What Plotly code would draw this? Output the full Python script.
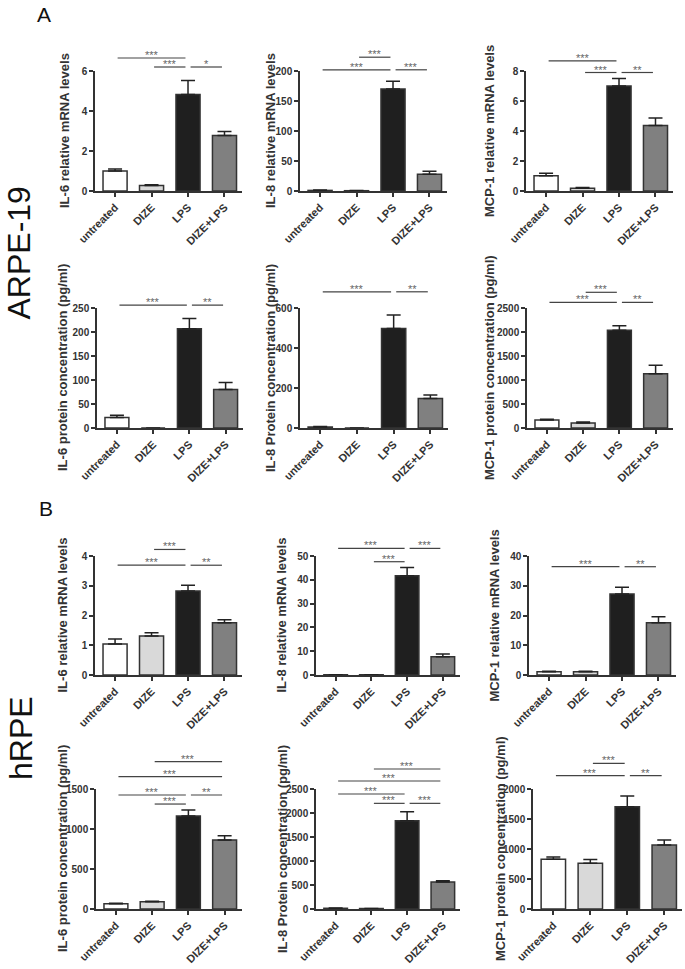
import plotly.graph_objects as go

W, H = 685, 969
FONT = "Liberation Sans"

groups = ["untreated", "DIZE", "LPS", "DIZE+LPS"]
bar_colors = ["#ffffff", "#d9d9d9", "#1f1f1f", "#808080"]

# ---- ARPE-19 (A) ----
il6_mrna_a = [1.0, 0.28, 4.83, 2.78]
il6_mrna_a_err = [0.1, 0.03, 0.69, 0.19]
il8_mrna_a = [1.0, 0.5, 170, 28]
il8_mrna_a_err = [0.5, 0.2, 13, 5]
mcp1_mrna_a = [1.02, 0.18, 7.0, 4.36]
mcp1_mrna_a_err = [0.16, 0.05, 0.5, 0.5]
il6_prot_a = [22, 0, 207, 80]
il6_prot_a_err = [4.5, 0, 21, 15]
il8_prot_a = [5, 0, 498, 148]
il8_prot_a_err = [3, 0, 67, 17]
mcp1_prot_a = [165, 104, 2035, 1132]
mcp1_prot_a_err = [15, 20, 95, 175]

# ---- hRPE (B) ----
il6_mrna_b = [1.04, 1.31, 2.82, 1.76]
il6_mrna_b_err = [0.17, 0.11, 0.2, 0.1]
il8_mrna_b = [0.1, 0.1, 41.7, 7.7]
il8_mrna_b_err = [0.05, 0.05, 3.5, 1.1]
mcp1_mrna_b = [1.1, 1.1, 27.2, 17.6]
mcp1_mrna_b_err = [0.2, 0.2, 2.3, 2.0]
il6_prot_b = [66, 91, 1162, 862]
il6_prot_b_err = [5, 5, 75, 55]
il8_prot_b = [15, 10, 1840, 562]
il8_prot_b_err = [5, 3, 187, 25]
mcp1_prot_b = [828, 761, 1706, 1067]
mcp1_prot_b_err = [38, 65, 177, 83]

# y-axis tops and tick steps
y_max = [6, 200, 8, 250, 600, 2500, 4, 50, 40, 1500, 2500, 2000]
y_dtick = [2, 50, 2, 50, 200, 500, 1, 10, 10, 500, 500, 500]

titles = [
    "IL-6 relative mRNA levels", "IL-8 relative mRNA levels", "MCP-1 relative mRNA levels",
    "IL-6 protein concentration (pg/ml)", "IL-8 Protein concentration (pg/ml)", "MCP-1 protein concentration (pg/ml)",
    "IL-6 relative mRNA levels", "IL-8 relative mRNA levels", "MCP-1 relative mRNA levels",
    "IL-6 protein concentration (pg/ml)", "IL-8 Protein concentration (pg/ml)", "MCP-1 protein concentration (pg/ml)",
]

# significance comparisons: (group i, group j, bracket height in data units, label)
sig = [
    [(0, 2, 6.65, "***"), (1, 2, 6.2, "***"), (2, 3, 6.2, "*")],
    [(1, 2, 223, "***"), (0, 2, 202, "***"), (2, 3, 202, "***")],
    [(0, 2, 8.67, "***"), (1, 2, 7.9, "***"), (2, 3, 7.9, "**")],
    [(0, 2, 256, "***"), (2, 3, 256, "**")],
    [(0, 2, 681, "***"), (2, 3, 681, "**")],
    [(1, 2, 2827, "***"), (0, 2, 2619, "***"), (2, 3, 2619, "**")],
    [(1, 2, 4.22, "***"), (0, 2, 3.69, "***"), (2, 3, 3.69, "**")],
    [(0, 2, 53.2, "***"), (2, 3, 53.2, "***"), (1, 2, 47.6, "***")],
    [(0, 2, 36.4, "***"), (2, 3, 36.4, "**")],
    [(1, 3, 1841, "***"), (0, 3, 1654, "***"), (0, 2, 1425, "***"), (2, 3, 1425, "**"), (1, 2, 1312, "***")],
    [(1, 3, 2917, "***"), (0, 3, 2667, "***"), (0, 2, 2396, "***"), (1, 2, 2201, "***"), (2, 3, 2201, "***")],
    [(1, 2, 2428, "***"), (0, 2, 2222, "***"), (2, 3, 2222, "**")],
]

means = [il6_mrna_a, il8_mrna_a, mcp1_mrna_a, il6_prot_a, il8_prot_a, mcp1_prot_a,
         il6_mrna_b, il8_mrna_b, mcp1_mrna_b, il6_prot_b, il8_prot_b, mcp1_prot_b]
errs = [il6_mrna_a_err, il8_mrna_a_err, mcp1_mrna_a_err, il6_prot_a_err, il8_prot_a_err, mcp1_prot_a_err,
        il6_mrna_b_err, il8_mrna_b_err, mcp1_mrna_b_err, il6_prot_b_err, il8_prot_b_err, mcp1_prot_b_err]

# layout: plot boxes in page pixels (left, right, top, bottom) and y-title centre x
boxes = [
    (95, 242, 71, 191), (300, 447, 71, 191), (526, 673, 71, 191),
    (97, 243, 308, 428), (300, 448, 308, 428), (527, 673, 308, 428),
    (95, 242, 556, 675), (316, 460, 556, 675), (529, 676, 556, 675),
    (96, 242, 789, 909), (316, 460, 789, 909), (533, 682, 789, 909),
]
title_x = [65, 271, 490, 62, 270, 489, 62, 281, 494, 62, 282, 500]


def px(x):
    return x / W


def py(y):
    return 1 - y / H


XR = (-0.55, 3.48)
AX = "#333333"

fig = go.Figure()
layout = dict(width=W, height=H, margin=dict(l=0, r=0, t=0, b=0, autoexpand=False),
              paper_bgcolor="white", plot_bgcolor="white", showlegend=False,
              font=dict(family=FONT, color=AX))
shapes, annotations = [], []


def fx(c):
    return (c - XR[0]) / (XR[1] - XR[0])


for k in range(12):
    n = k + 1
    xa = "x" if n == 1 else f"x{n}"
    ya = "y" if n == 1 else f"y{n}"
    l, r, t, b = boxes[k]
    fig.add_trace(go.Bar(
        x=groups, y=means[k], xaxis=xa, yaxis=ya, width=0.66,
        marker=dict(color=bar_colors, line=dict(color=AX, width=1.5)),
        error_y=dict(type="data", symmetric=False, array=errs[k], arrayminus=[0] * 4,
                     color="#222222", thickness=1.5, width=7),
        hoverinfo="skip",
    ))
    layout["xaxis" if n == 1 else f"xaxis{n}"] = dict(
        domain=[px(l), px(r)], anchor=ya, range=list(XR), type="category",
        automargin=False,
        showline=True, linecolor=AX, linewidth=1.5, ticks="outside", ticklen=4,
        tickwidth=1.5, tickcolor=AX, tickangle=-45, showgrid=False, zeroline=False,
        tickfont=dict(size=11, color=AX, family=FONT, weight="bold"), fixedrange=True,
    )
    layout["yaxis" if n == 1 else f"yaxis{n}"] = dict(
        domain=[py(b), py(t)], anchor=xa, range=[0, y_max[k]], dtick=y_dtick[k],
        tick0=0, automargin=False,
        showline=True, linecolor=AX, linewidth=1.5, ticks="outside", ticklen=4,
        tickwidth=1.5, tickcolor=AX, showgrid=False, zeroline=False,
        tickfont=dict(size=10, color=AX, family=FONT, weight="bold"), fixedrange=True,
    )
    annotations.append(dict(
        text=titles[k], xref="paper", yref="paper", x=px(title_x[k]),
        y=py((t + b) / 2), textangle=-90, showarrow=False,
        xanchor="center", yanchor="middle",
        font=dict(size=13, color=AX, family=FONT, weight="bold"),
    ))
    for (i, j, yv, lab) in sig[k]:
        yf = yv / y_max[k]
        shapes.append(dict(type="line", xref=f"{xa} domain", yref=f"{ya} domain",
                           x0=fx(i + 0.07), x1=fx(j - 0.07), y0=yf, y1=yf,
                           line=dict(color="#444444", width=1.2)))
        annotations.append(dict(text=lab, xref=f"{xa} domain", yref=f"{ya} domain",
                                x=fx((i + j) / 2), y=yf, yanchor="bottom", xanchor="center",
                                showarrow=False, yshift=-5,
                                font=dict(size=11, color="#666666", family=FONT)))

# panel letters and cell-line labels
annotations += [
    dict(text="A", xref="paper", yref="paper", x=px(44), y=py(15), showarrow=False,
         xanchor="center", yanchor="middle", font=dict(size=21, color="#111", family=FONT)),
    dict(text="B", xref="paper", yref="paper", x=px(46), y=py(508), showarrow=False,
         xanchor="center", yanchor="middle", font=dict(size=21, color="#111", family=FONT)),
    dict(text="ARPE-19", xref="paper", yref="paper", x=px(18.5), y=py(253), showarrow=False,
         textangle=-90, xanchor="center", yanchor="middle",
         font=dict(size=32, color="#111", family=FONT)),
    dict(text="hRPE", xref="paper", yref="paper", x=px(21), y=py(738), showarrow=False,
         textangle=-90, xanchor="center", yanchor="middle",
         font=dict(size=32, color="#111", family=FONT)),
]

layout["shapes"] = shapes
layout["annotations"] = annotations
fig.update_layout(**layout)
# the page's default 8px body margin would offset the figure; remove it
fig.write_html("out.html", config={"displayModeBar": False},
               post_script="document.body.style.margin = '0px';")
